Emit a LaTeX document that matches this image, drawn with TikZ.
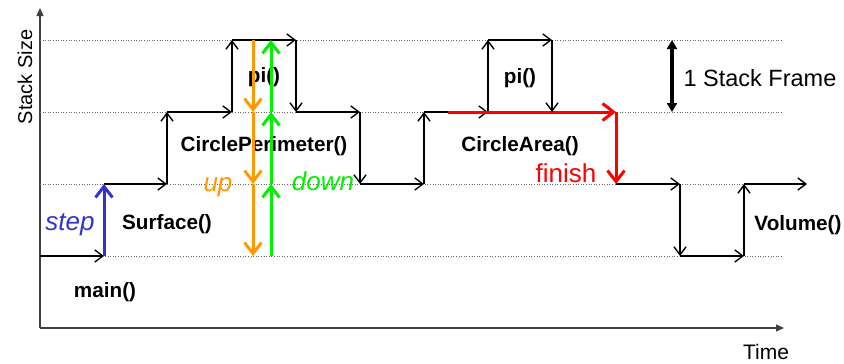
\documentclass[tikz,border=0pt]{standalone}
\usepackage{fontspec}
\setmainfont{Liberation Sans}
\usetikzlibrary{arrows.meta}
\definecolor{cblue}{RGB}{51,51,204}
\definecolor{corange}{RGB}{255,153,0}
\definecolor{cgreen}{RGB}{0,240,0}
\definecolor{cred}{RGB}{255,0,0}
\begin{document}
\begin{tikzpicture}[x=1pt,y=-1pt,
  flow/.style={line width=1.4pt,-{Straight Barb[length=8pt,width=12pt]}},
  thick flow/.style={line width=3pt,-{Straight Barb[length=11pt,width=17pt]}},
  levelline/.style={gray!80!black,dotted,line width=0.6pt},
  axisline/.style={black!75,line width=1.2pt,-{Triangle[length=8pt,width=7pt]}},
  fname/.style={font=\fontsize{20.7}{24}\selectfont\bfseries,inner sep=0pt},
  tag/.style={font=\fontsize{26}{30}\selectfont\itshape,inner sep=0pt,anchor=base},
  every node/.style={inner sep=0pt}]
\useasboundingbox (0,0) rectangle (844,364);
% axes
\coordinate (O) at (40,328);
\coordinate (ytop) at (40,8);
\coordinate (xend) at (784,328);
\draw[axisline] (O) -- (ytop);
\draw[axisline] (O) -- (xend);
% level lines
\foreach \yy in {40,112,184,256}{
  \draw[levelline] (40,\yy) -- (783,\yy);
}
% labels
\node[fname] (main) at (105,292) {main()};
\node[fname] (surf) at (167,224) {Surface()};
\node[fname] (cp) at (264,146) {CirclePerimeter()};
\node[fname] (pia) at (264,77) {pi()};
\node[fname] (pib) at (520,78) {pi()};
\node[fname] (ca) at (520,146) {CircleArea()};
\node[fname] (vol) at (798,225) {Volume()};
\node[font=\fontsize{26}{30}\selectfont,text=cred,anchor=base] (fin) at (566,182) {finish};
\node[tag,text=corange] (up) at (218,191) {up};
\node[tag,text=cgreen] (down) at (323,190) {down};
\node[tag,text=cblue] (stp) at (70,230) {step};
\node[font=\fontsize{23.5}{28}\selectfont,anchor=base] (sf) at (760,86) {1 Stack Frame};
\node[font=\fontsize{20}{24}\selectfont,rotate=90,anchor=base] (ss) at (32,77) {Stack Size};
\node[font=\fontsize{21}{24}\selectfont,anchor=base] (tm) at (766,359) {Time};
% staircase points
\coordinate (p0) at (40,256);
\coordinate (a1) at (104,256);
\coordinate (a2) at (104,184);
\coordinate (a3) at (167,184);
\coordinate (a4) at (167,112);
\coordinate (a5) at (232,112);
\coordinate (a6) at (232,40);
\coordinate (a7) at (296,40);
\coordinate (a8) at (296,112);
\coordinate (a9) at (360,112);
\coordinate (a10) at (360,184);
\coordinate (a11) at (424,184);
\coordinate (a12) at (424,112);
\coordinate (a13) at (488,112);
\coordinate (a14) at (488,40);
\coordinate (a15) at (552,40);
\coordinate (a16) at (552,112);
\coordinate (r0) at (448,112);
\coordinate (a17) at (616,112);
\coordinate (a18) at (616,184);
\coordinate (a19) at (680,184);
\coordinate (a20) at (680,256);
\coordinate (a21) at (744,256);
\coordinate (a22) at (744,184);
\coordinate (a23) at (807,184);
\foreach \s/\e in {p0/a1,a2/a3,a3/a4,a4/a5,a5/a6,a6/a7,a7/a8,a8/a9,a9/a10,a10/a11,a11/a12,a12/a13,a13/a14,a14/a15,a18/a19,a19/a20,a20/a21,a21/a22,a22/a23}{
  \draw[flow] (\s) -- (\e);
}
\draw[thick flow,cblue] (a1) -- (a2);
\draw[thick flow,cred] (r0) -- (a17);
\draw[thick flow,cred] (a17) -- (a18);
\draw[flow] (a15) -- (a16);
% up / down arrows
\coordinate (o0) at (253,40);
\coordinate (o1) at (253,112);
\coordinate (o2) at (253,184);
\coordinate (o3) at (253,256);
\coordinate (g0) at (271,256);
\coordinate (g1) at (271,184);
\coordinate (g2) at (271,112);
\coordinate (g3) at (271,40);
\draw[thick flow,corange] (o0) -- (o1);
\draw[thick flow,corange] (o1) -- (o2);
\draw[thick flow,corange] (o2) -- (o3);
\draw[thick flow,cgreen] (g0) -- (g1);
\draw[thick flow,cgreen] (g1) -- (g2);
\draw[thick flow,cgreen] (g2) -- (g3);
% stack frame size arrow
\coordinate (f0) at (672,40);
\coordinate (f1) at (672,112);
\draw[line width=3.5pt,{Triangle[length=9pt,width=10pt]}-{Triangle[length=9pt,width=10pt]}] (f0) -- (f1);
\end{tikzpicture}
\end{document}
